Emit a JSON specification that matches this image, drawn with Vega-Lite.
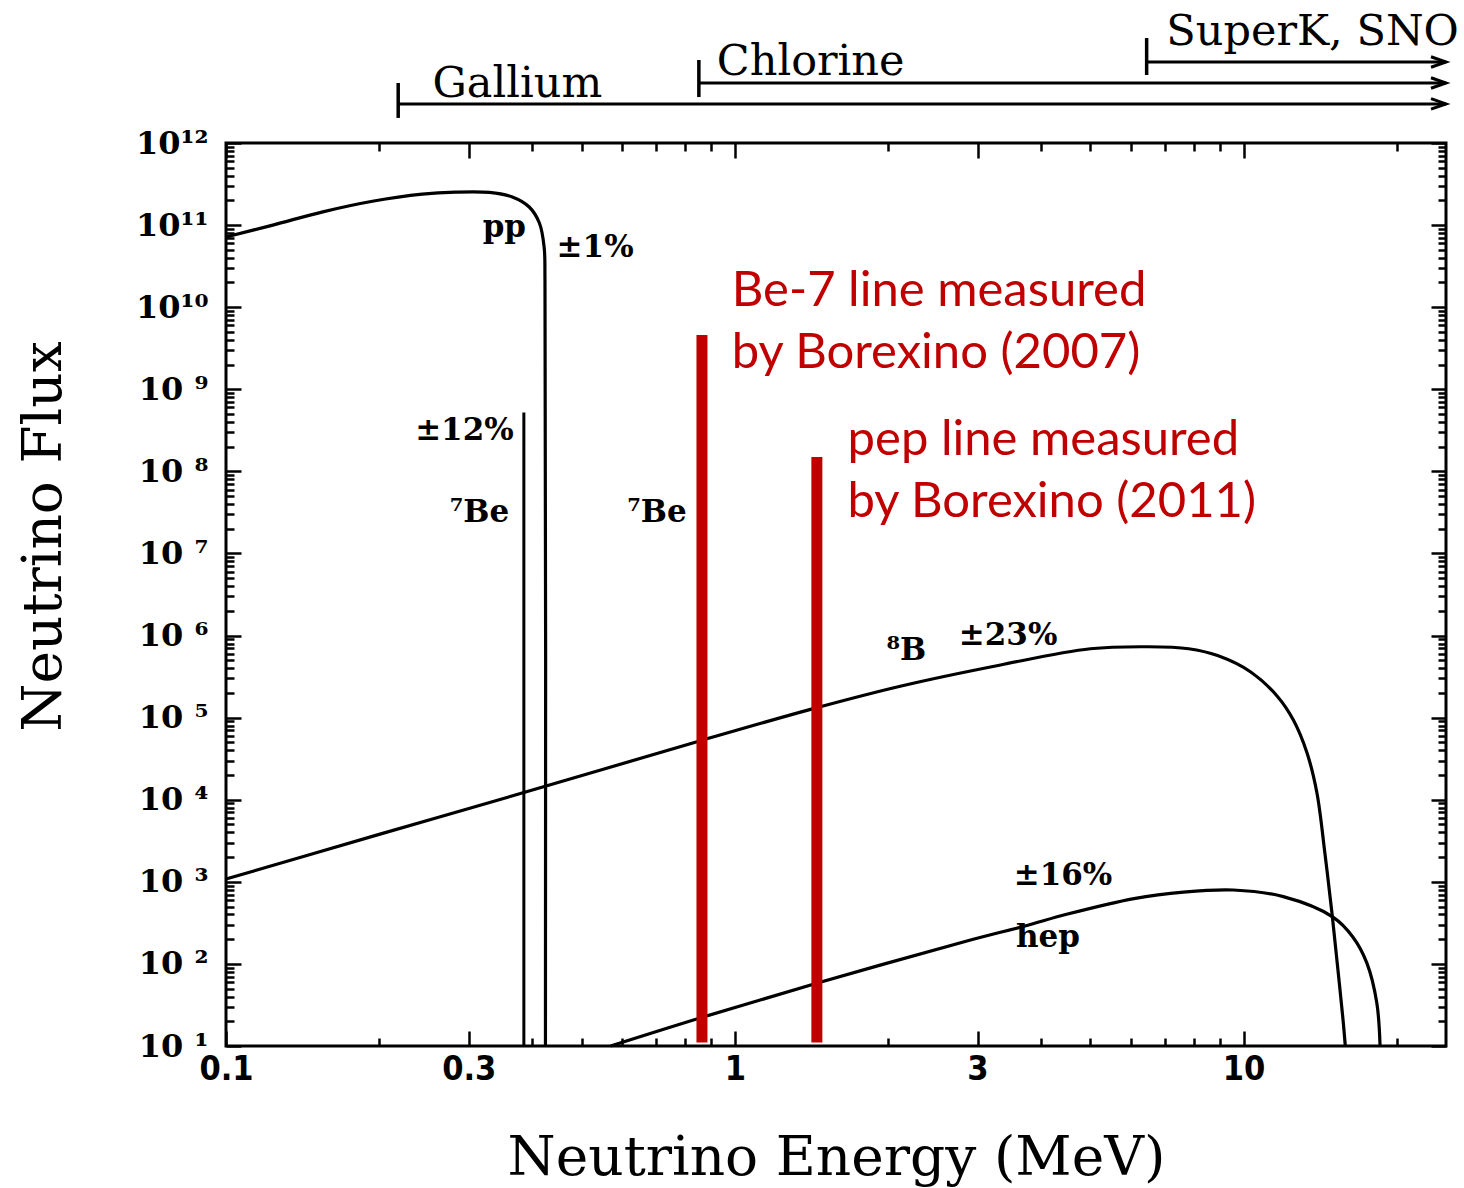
{
  "$schema": "https://vega.github.io/schema/vega-lite/v6.json",
  "width": 1220,
  "height": 903,
  "autosize": {"type": "none"},
  "padding": {"left": 226, "top": 143, "right": 18, "bottom": 142},
  "background": "white",
  "config": {
    "view": {"stroke": "black", "strokeWidth": 3},
    "axis": {"domain": false, "grid": false, "tickColor": "black", "tickWidth": 2.5, "labelColor": "black", "titleColor": "black", "labelOverlap": false, "labelFlush": false}
  },
  "datasets": {
    "curves": [
      {"source": "pp", "E": 0.1, "flux": 7.16e10},
      {"source": "pp", "E": 0.1236, "flux": 1.0e11},
      {"source": "pp", "E": 0.155, "flux": 1.45e11},
      {"source": "pp", "E": 0.194, "flux": 1.95e11},
      {"source": "pp", "E": 0.243, "flux": 2.38e11},
      {"source": "pp", "E": 0.2825, "flux": 2.52e11},
      {"source": "pp", "E": 0.3295, "flux": 2.5e11},
      {"source": "pp", "E": 0.3654, "flux": 2.2e11},
      {"source": "pp", "E": 0.3945, "flux": 1.66e11},
      {"source": "pp", "E": 0.413, "flux": 1.06e11},
      {"source": "pp", "E": 0.422, "flux": 5.4e10},
      {"source": "pp", "E": 0.4236, "flux": 2.1e10},
      {"source": "pp", "E": 0.4245, "flux": 10},
      {"source": "8B", "E": 0.1, "flux": 1.08e3},
      {"source": "8B", "E": 0.2, "flux": 3.78e3},
      {"source": "8B", "E": 0.388, "flux": 1.24e4},
      {"source": "8B", "E": 0.866, "flux": 5.34e4},
      {"source": "8B", "E": 1.415, "flux": 1.27e5},
      {"source": "8B", "E": 2.125, "flux": 2.43e5},
      {"source": "8B", "E": 3.33, "flux": 4.38e5},
      {"source": "8B", "E": 5.0, "flux": 6.9e5},
      {"source": "8B", "E": 6.5, "flux": 7.3e5},
      {"source": "8B", "E": 7.8, "flux": 6.9e5},
      {"source": "8B", "E": 8.89, "flux": 5.7e5},
      {"source": "8B", "E": 10.33, "flux": 3.6e5},
      {"source": "8B", "E": 11.67, "flux": 1.8e5},
      {"source": "8B", "E": 12.53, "flux": 9.35e4},
      {"source": "8B", "E": 13.33, "flux": 3.71e4},
      {"source": "8B", "E": 13.94, "flux": 1.21e4},
      {"source": "8B", "E": 14.45, "flux": 2.24e3},
      {"source": "8B", "E": 14.92, "flux": 417},
      {"source": "8B", "E": 15.33, "flux": 84.4},
      {"source": "8B", "E": 15.69, "flux": 20.7},
      {"source": "8B", "E": 15.85, "flux": 10},
      {"source": "hep", "E": 0.57, "flux": 10},
      {"source": "hep", "E": 0.866, "flux": 22.5},
      {"source": "hep", "E": 1.454, "flux": 58.5},
      {"source": "hep", "E": 2.86, "flux": 190},
      {"source": "hep", "E": 3.72, "flux": 290},
      {"source": "hep", "E": 4.51, "flux": 405},
      {"source": "hep", "E": 6.09, "flux": 625},
      {"source": "hep", "E": 7.62, "flux": 750},
      {"source": "hep", "E": 9.55, "flux": 795},
      {"source": "hep", "E": 11.97, "flux": 660},
      {"source": "hep", "E": 14.99, "flux": 372},
      {"source": "hep", "E": 16.4, "flux": 213},
      {"source": "hep", "E": 17.47, "flux": 103},
      {"source": "hep", "E": 18.28, "flux": 33.4},
      {"source": "hep", "E": 18.55, "flux": 10}
    ],
    "lines": [
      {"source": "7Be 0.384", "kind": "model", "E": 0.385, "lo": 10, "hi": 5.2e8},
      {"source": "7Be 0.862", "kind": "measured", "E": 0.862, "lo": 11, "hi": 4.58e9},
      {"source": "pep", "kind": "measured", "E": 1.45, "lo": 11, "hi": 1.5e8}
    ],
    "detectors": [
      {"detector": "Gallium", "threshold": 0.218, "end": 25, "level": 2.99e12, "tickTop": 5.38e12, "tickBottom": 2.02e12, "labelE": 0.2546, "labelY": 3.63e12},
      {"detector": "Chlorine", "threshold": 0.85, "end": 25, "level": 5.38e12, "tickTop": 1.026e13, "tickBottom": 3.63e12, "labelE": 0.922, "labelY": 6.73e12},
      {"detector": "SuperK, SNO", "threshold": 6.45, "end": 25, "level": 9.7e12, "tickTop": 1.9e13, "tickBottom": 6.73e12, "labelE": 7.05, "labelY": 1.56e13}
    ],
    "curveLabels": [
      {"text": "pp", "E": 0.3524, "flux": 9.21e10},
      {"text": "±1%", "E": 0.5315, "flux": 5.26e10},
      {"text": "±12%", "E": 0.2942, "flux": 3.1e8},
      {"text": "⁷Be", "E": 0.3148, "flux": 3.11e7},
      {"text": "⁷Be", "E": 0.7031, "flux": 3.11e7},
      {"text": "⁸B", "E": 2.174, "flux": 6.48e5},
      {"text": "±23%", "E": 3.445, "flux": 9.87e5},
      {"text": "±16%", "E": 4.416, "flux": 1.18e3},
      {"text": "hep", "E": 4.128, "flux": 207}
    ],
    "notes": [
      {"text": "Be-7 line measured", "E": 0.9865, "flux": 1.034e10},
      {"text": "by Borexino (2007)", "E": 0.9865, "flux": 1.815e9},
      {"text": "pep line measured", "E": 1.666, "flux": 1.58e8},
      {"text": "by Borexino (2011)", "E": 1.666, "flux": 2.78e7}
    ]
  },
  "resolve": {"axis": {"x": "independent", "y": "independent"}},
  "layer": [
    {
      "data": {"name": "curves"},
      "transform": [{"filter": "datum.source == '8B'"}],
      "mark": {"type": "line", "color": "black", "strokeWidth": 3.2, "interpolate": "catmull-rom", "clip": false},
      "encoding": {
        "x": {"field": "E", "type": "quantitative", "scale": {"type": "log", "domain": [0.1, 25], "nice": false},
          "axis": {"orient": "bottom", "values": [0.1, 0.3, 1, 3, 10], "format": "~g", "tickSize": -15, "labelPadding": 21,
            "labelFont": "'Liberation Sans Narrow', 'DejaVu Sans Condensed', 'DejaVu Sans'", "labelFontSize": 34, "labelFontWeight": "bold",
            "title": "Neutrino Energy (MeV)", "titleFont": "DejaVu Serif", "titleFontSize": 55, "titleFontWeight": "normal",
            "titleBaseline": "alphabetic", "titleX": 610, "titleY": 128}},
        "y": {"field": "flux", "type": "quantitative", "scale": {"type": "log", "domain": [10, 1e12], "nice": false},
          "axis": {"orient": "left", "values": [10, 100, 1000, 1e4, 1e5, 1e6, 1e7, 1e8, 1e9, 1e10, 1e11, 1e12],
            "labelExpr": "'10' + [' ⁰',' ¹',' ²',' ³',' ⁴',' ⁵',' ⁶',' ⁷',' ⁸',' ⁹','¹⁰','¹¹','¹²'][round(log(datum.value)/LN10)]",
            "tickSize": -15, "labelPadding": 33, "labelFont": "DejaVu Serif", "labelFontSize": 32, "labelFontWeight": "bold",
            "title": "Neutrino Flux", "titleFont": "DejaVu Serif", "titleFontSize": 55, "titleFontWeight": "normal",
            "titleBaseline": "alphabetic", "titleX": -166, "titleY": 393}}
      }
    },
    {
      "data": {"name": "curves"},
      "transform": [{"filter": "datum.source == 'pp'"}],
      "mark": {"type": "line", "color": "black", "strokeWidth": 3.2, "interpolate": "catmull-rom", "clip": false},
      "encoding": {
        "x": {"field": "E", "type": "quantitative", "scale": {"type": "log", "domain": [0.1, 25], "nice": false},
          "axis": {"orient": "bottom", "values": [0.2, 0.4, 0.5, 0.6, 0.7, 0.8, 0.9, 2, 4, 5, 6, 7, 8, 9, 20], "labels": false, "tickSize": -8, "title": null}},
        "y": {"field": "flux", "type": "quantitative", "scale": {"type": "log", "domain": [10, 1e12], "nice": false},
          "axis": {"orient": "left", "labels": false, "tickSize": -8, "title": null,
            "values": [20,30,40,50,60,70,80,90,200,300,400,500,600,700,800,900,2e3,3e3,4e3,5e3,6e3,7e3,8e3,9e3,2e4,3e4,4e4,5e4,6e4,7e4,8e4,9e4,2e5,3e5,4e5,5e5,6e5,7e5,8e5,9e5,2e6,3e6,4e6,5e6,6e6,7e6,8e6,9e6,2e7,3e7,4e7,5e7,6e7,7e7,8e7,9e7,2e8,3e8,4e8,5e8,6e8,7e8,8e8,9e8,2e9,3e9,4e9,5e9,6e9,7e9,8e9,9e9,2e10,3e10,4e10,5e10,6e10,7e10,8e10,9e10,2e11,3e11,4e11,5e11,6e11,7e11,8e11,9e11]}}
      }
    },
    {
      "data": {"name": "curves"},
      "transform": [{"filter": "datum.source == 'hep'"}],
      "mark": {"type": "line", "color": "black", "strokeWidth": 3.2, "interpolate": "catmull-rom", "clip": false},
      "encoding": {
        "x": {"field": "E", "type": "quantitative", "scale": {"type": "log", "domain": [0.1, 25], "nice": false},
          "axis": {"orient": "top", "values": [0.1, 0.3, 1, 3, 10], "labels": false, "tickSize": -15, "title": null}},
        "y": {"field": "flux", "type": "quantitative", "scale": {"type": "log", "domain": [10, 1e12], "nice": false},
          "axis": {"orient": "right", "values": [10, 100, 1000, 1e4, 1e5, 1e6, 1e7, 1e8, 1e9, 1e10, 1e11, 1e12], "labels": false, "tickSize": -15, "title": null}}
      }
    },
    {
      "data": {"name": "lines"},
      "transform": [{"filter": "datum.kind == 'model'"}],
      "mark": {"type": "rule", "color": "black", "strokeWidth": 3, "clip": false},
      "encoding": {
        "x": {"field": "E", "type": "quantitative", "scale": {"type": "log", "domain": [0.1, 25], "nice": false},
          "axis": {"orient": "top", "values": [0.2, 0.4, 0.5, 0.6, 0.7, 0.8, 0.9, 2, 4, 5, 6, 7, 8, 9, 20], "labels": false, "tickSize": -8, "title": null}},
        "y": {"field": "lo", "type": "quantitative", "scale": {"type": "log", "domain": [10, 1e12], "nice": false},
          "axis": {"orient": "right", "labels": false, "tickSize": -8, "title": null,
            "values": [20,30,40,50,60,70,80,90,200,300,400,500,600,700,800,900,2e3,3e3,4e3,5e3,6e3,7e3,8e3,9e3,2e4,3e4,4e4,5e4,6e4,7e4,8e4,9e4,2e5,3e5,4e5,5e5,6e5,7e5,8e5,9e5,2e6,3e6,4e6,5e6,6e6,7e6,8e6,9e6,2e7,3e7,4e7,5e7,6e7,7e7,8e7,9e7,2e8,3e8,4e8,5e8,6e8,7e8,8e8,9e8,2e9,3e9,4e9,5e9,6e9,7e9,8e9,9e9,2e10,3e10,4e10,5e10,6e10,7e10,8e10,9e10,2e11,3e11,4e11,5e11,6e11,7e11,8e11,9e11]}},
        "y2": {"field": "hi"}
      }
    },
    {
      "data": {"name": "lines"},
      "transform": [{"filter": "datum.kind == 'measured'"}],
      "mark": {"type": "rule", "color": "#C00000", "strokeWidth": 11, "strokeCap": "butt", "clip": false},
      "encoding": {
        "x": {"field": "E", "type": "quantitative", "scale": {"type": "log", "domain": [0.1, 25], "nice": false}, "axis": null},
        "y": {"field": "lo", "type": "quantitative", "scale": {"type": "log", "domain": [10, 1e12], "nice": false}, "axis": null},
        "y2": {"field": "hi"}
      }
    },
    {
      "data": {"name": "detectors"},
      "mark": {"type": "rule", "color": "black", "strokeWidth": 3, "clip": false},
      "encoding": {
        "x": {"field": "threshold", "type": "quantitative", "scale": {"type": "log", "domain": [0.1, 25], "nice": false}, "axis": null},
        "x2": {"field": "end"},
        "y": {"field": "level", "type": "quantitative", "scale": {"type": "log", "domain": [10, 1e12], "nice": false}, "axis": null}
      }
    },
    {
      "data": {"name": "detectors"},
      "mark": {"type": "rule", "color": "black", "strokeWidth": 3.5, "clip": false},
      "encoding": {
        "x": {"field": "threshold", "type": "quantitative", "scale": {"type": "log", "domain": [0.1, 25], "nice": false}, "axis": null},
        "y": {"field": "tickBottom", "type": "quantitative", "scale": {"type": "log", "domain": [10, 1e12], "nice": false}, "axis": null},
        "y2": {"field": "tickTop"}
      }
    },
    {
      "data": {"name": "detectors"},
      "mark": {"type": "point", "shape": "M-1,-0.35L0,0L-1,0.35", "size": 900, "filled": false, "stroke": "black", "strokeWidth": 3, "opacity": 1, "clip": false},
      "encoding": {
        "x": {"field": "end", "type": "quantitative", "scale": {"type": "log", "domain": [0.1, 25], "nice": false}, "axis": null},
        "y": {"field": "level", "type": "quantitative", "scale": {"type": "log", "domain": [10, 1e12], "nice": false}, "axis": null}
      }
    },
    {
      "data": {"name": "detectors"},
      "mark": {"type": "text", "align": "left", "baseline": "alphabetic", "font": "DejaVu Serif", "fontSize": 43, "color": "black", "clip": false},
      "encoding": {
        "x": {"field": "labelE", "type": "quantitative", "scale": {"type": "log", "domain": [0.1, 25], "nice": false}, "axis": null},
        "y": {"field": "labelY", "type": "quantitative", "scale": {"type": "log", "domain": [10, 1e12], "nice": false}, "axis": null},
        "text": {"field": "detector"}
      }
    },
    {
      "data": {"name": "curveLabels"},
      "mark": {"type": "text", "align": "center", "baseline": "middle", "font": "DejaVu Serif", "fontSize": 31, "fontWeight": "bold", "color": "black", "clip": false},
      "encoding": {
        "x": {"field": "E", "type": "quantitative", "scale": {"type": "log", "domain": [0.1, 25], "nice": false}, "axis": null},
        "y": {"field": "flux", "type": "quantitative", "scale": {"type": "log", "domain": [10, 1e12], "nice": false}, "axis": null},
        "text": {"field": "text"}
      }
    },
    {
      "data": {"name": "notes"},
      "mark": {"type": "text", "align": "left", "baseline": "alphabetic", "font": "Lato", "fontSize": 49, "color": "#C00000", "clip": false},
      "encoding": {
        "x": {"field": "E", "type": "quantitative", "scale": {"type": "log", "domain": [0.1, 25], "nice": false}, "axis": null},
        "y": {"field": "flux", "type": "quantitative", "scale": {"type": "log", "domain": [10, 1e12], "nice": false}, "axis": null},
        "text": {"field": "text"}
      }
    }
  ]
}
